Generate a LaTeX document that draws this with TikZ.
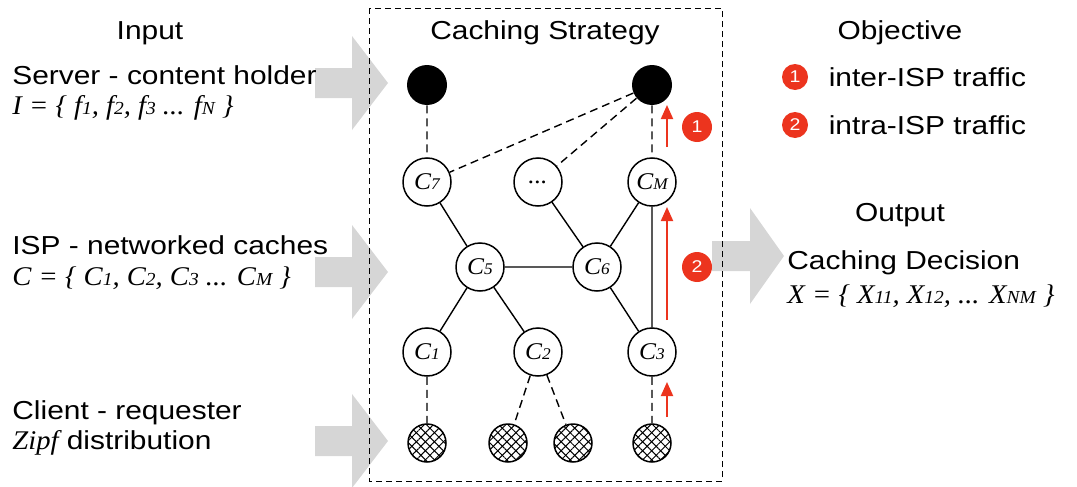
\documentclass[tikz,border=0pt]{standalone}
\usepackage{graphicx}
\usepackage{fontspec}
\setmainfont{Liberation Sans}[FakeStretch=1.15]
\newfontfamily\seriffam{Liberation Serif}[FakeStretch=1.06]
\usetikzlibrary{positioning,arrows.meta,patterns.meta}
\definecolor{badgered}{RGB}{236,52,30}
\definecolor{arrowgray}{RGB}{214,214,214}
\newcommand\lo[1]{\scalebox{0.68}{#1}}
\newcommand\setfont{\seriffam\itshape\fontsize{13.5}{15}\selectfont}
\newcommand\cachefont{\seriffam\itshape\fontsize{12}{12}\selectfont}
\newcommand\txtfont{\fontsize{13}{15}\selectfont}

\begin{document}
\begin{tikzpicture}[x=0.5pt,y=-0.5pt,
		txt/.style={inner sep=0pt,font=\txtfont},
		settxt/.style={inner sep=0pt,font=\setfont},
		cache/.style={circle,draw,line width=0.75pt,minimum size=24pt,inner sep=0pt,font=\cachefont},
		server/.style={circle,fill=black,minimum size=20pt,inner sep=0pt},
		client/.style={circle,draw,line width=0.75pt,minimum size=19pt,inner sep=0pt,
			pattern={Lines[angle=45,distance=3.2pt,line width=0.5pt]},
			postaction={pattern={Lines[angle=-45,distance=3.2pt,line width=0.5pt]}}},
		badge/.style={circle,fill=badgered,text=white,minimum size=15pt,inner sep=0pt,font=\fontsize{8.5}{8.5}\selectfont},
		edge/.style={line width=0.7pt},
		dashedge/.style={line width=0.7pt,dash pattern=on 4pt off 2.5pt},
		flow/.style={badgered,line width=1pt,-{Triangle[length=7pt,width=6pt]}}]
	\useasboundingbox (0,0) rectangle (1077,487);

	% big gray arrows
	\foreach \y in {83,272,441}
		\fill[arrowgray] (315,\y-15) -- (352,\y-15) -- (352,\y-47) -- (388,\y)
			-- (352,\y+47) -- (352,\y+15) -- (315,\y+15) -- cycle;
	\fill[arrowgray] (712,241) -- (750,241) -- (750,208) -- (784,256)
		-- (750,304) -- (750,271) -- (712,271) -- cycle;

	\draw[line width=0.5pt,dash pattern=on 3pt off 2pt] (369,8) rectangle (722,481);

	% left column
	\node[txt] (input) at (150,33) {Input};
	\node[txt,anchor=west] (server) at (12,75) {Server - content holder};
	\node[settxt,anchor=west] (iset) at (12,108) {I = \{ f\lo{1}, f\lo{2}, f\lo{3} ... f\lo{N} \}};
	\node[txt,anchor=west] (isp) at (12,245) {ISP - networked caches};
	\node[settxt,anchor=west] (cset) at (12,278) {C = \{ C\lo{1}, C\lo{2}, C\lo{3} ... C\lo{M} \}};
	\node[txt,anchor=west] (client) at (12,413) {Client - requester};
	\node[txt,anchor=west] (zipf) at (12,443) {{\setfont Zipf} distribution};

	% strategy
	\node[txt] (strategy) at (545,33) {Caching Strategy};
	\node[server] (s1) at (427,85) {};
	\node[server] (s2) at (652,85) {};
	\node[cache] (c7) at (427,182) {C\lo{7}};
	\node[cache] (cd) at (538,182) {...};
	\node[cache] (cm) at (652,182) {C\lo{M}};
	\node[cache] (c5) at (480,267) {C\lo{5}};
	\node[cache] (c6) at (597,267) {C\lo{6}};
	\node[cache] (c1) at (427,352) {C\lo{1}};
	\node[cache] (c2) at (538,352) {C\lo{2}};
	\node[cache] (c3) at (652,352) {C\lo{3}};
	\node[client] (u1) at (427,443) {};
	\node[client] (u2) at (508,443) {};
	\node[client] (u3) at (573,443) {};
	\node[client] (u4) at (652,443) {};

	\draw[dashedge] (s1) -- (c7) (s2) -- (c7) (s2) -- (cd) (s2) -- (cm);
	\draw[edge] (c7) -- (c5) (c5) -- (c6) (c5) -- (c1) (c5) -- (c2)
		(cd) -- (c6) (c6) -- (cm) (c6) -- (c3) (cm) -- (c3);
	\draw[dashedge] (c1) -- (u1) (c2) -- (u2) (c2) -- (u3) (c3) -- (u4);

	% traffic
	\coordinate (f1a) at (667,147);
	\coordinate (f1b) at (667,105);
	\coordinate (f2a) at (667,320);
	\coordinate (f2b) at (667,207);
	\coordinate (f3a) at (667,417);
	\coordinate (f3b) at (667,382);
	\draw[flow] (f1a) -- (f1b);
	\draw[flow] (f2a) -- (f2b);
	\draw[flow] (f3a) -- (f3b);
	\node[badge] (b1) at (697,127) {1};
	\node[badge] (b2) at (697,267) {2};

	% right column
	\node[txt] (objective) at (900,33) {Objective};
	\node[badge,minimum size=13pt] (l1) at (795,77) {1};
	\node[txt,right=10pt of l1] (inter) {inter-ISP traffic};
	\node[badge,minimum size=13pt] (l2) at (795,125) {2};
	\node[txt,right=10pt of l2] (intra) {intra-ISP traffic};
	\node[txt] (output) at (900,215) {Output};
	\node[txt,anchor=west] (decision) at (787,263) {Caching Decision};
	\node[settxt,anchor=west] (xset) at (787,296) {X = \{ X\lo{11}, X\lo{12}, ... X\lo{NM} \}};
\end{tikzpicture}
\end{document}
